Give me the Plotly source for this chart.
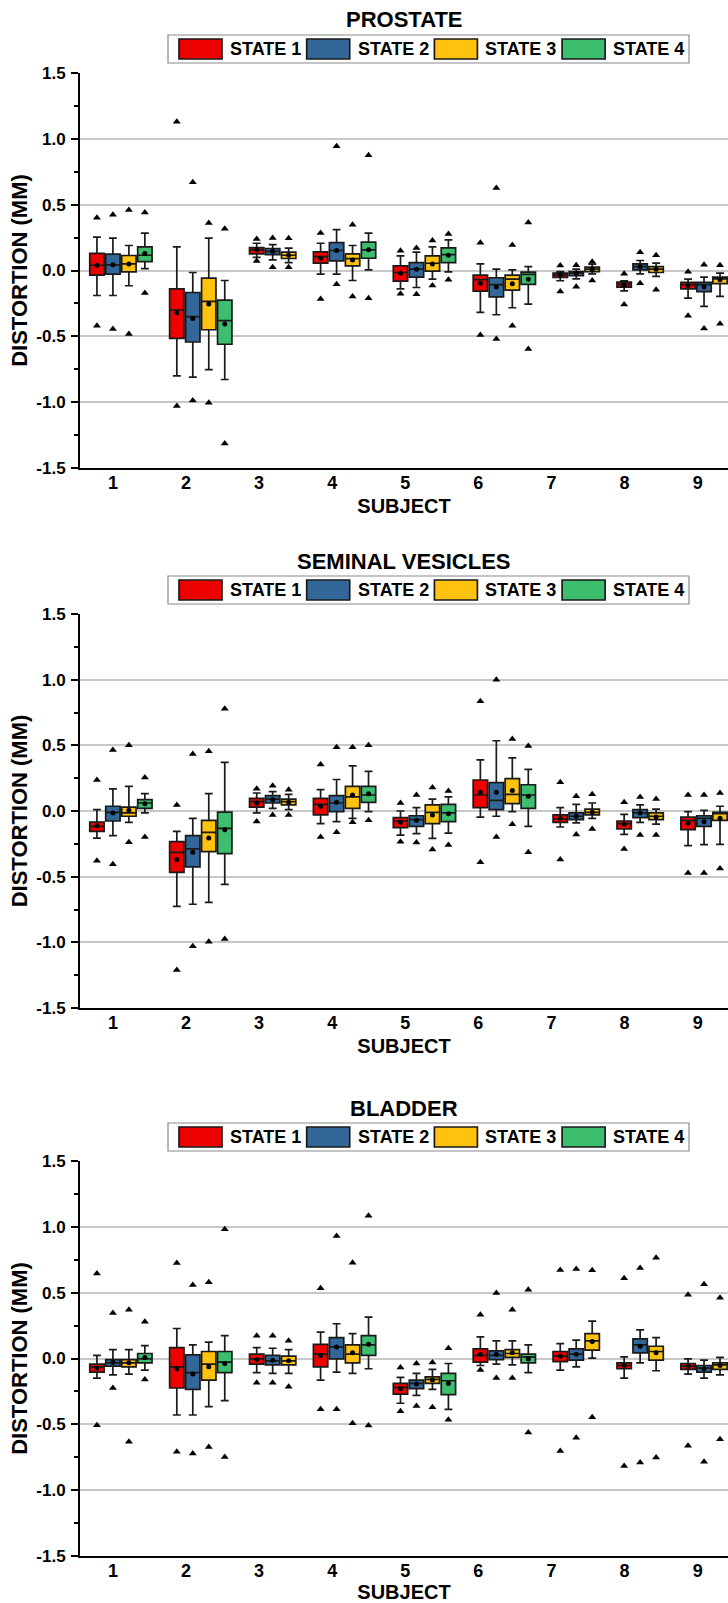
import numpy as np
import plotly.graph_objects as go

FONT = "Liberation Sans, Arial, sans-serif"
SUBJECTS = ["1", "2", "3", "4", "5", "6", "7", "8", "9"]
STATES = ["STATE 1", "STATE 2", "STATE 3", "STATE 4"]
COLORS = ["#EE0000", "#336699", "#FFC20E", "#3CBE6E"]
ORGANS = ["PROSTATE", "SEMINAL VESICLES", "BLADDER"]
Y_TICKS = [-1.5, -1.0, -0.5, 0.0, 0.5, 1.0, 1.5]
Y_TICK_TEXT = ["-1.5", "-1.0", "-0.5", "0.0", "0.5", "1.0", "1.5"]
Y_MINOR = [-1.25, -0.75, -0.25, 0.25, 0.75, 1.25]
N = None

# ---------------- PROSTATE (lists per state 1..4, values per subject 1..9)
PROSTATE_Q3 = [
    [0.13, -0.139, 0.174, 0.141, 0.035, -0.035, -0.02, -0.088, -0.09],
    [0.124, -0.167, 0.167, 0.212, 0.06, -0.055, -0.008, 0.05, -0.09],
    [0.114, -0.058, 0.139, 0.126, 0.111, -0.035, 0.025, 0.03, -0.05],
    [0.18, -0.225, N, 0.215, 0.172, -0.013, N, N, N]]
PROSTATE_Q1 = [
    [-0.035, -0.515, 0.126, 0.056, -0.08, -0.157, -0.053, -0.126, -0.139],
    [-0.028, -0.543, 0.121, 0.073, -0.05, -0.2, -0.04, 0.005, -0.16],
    [-0.01, -0.45, 0.091, 0.035, -0.005, -0.149, -0.008, -0.015, -0.1],
    [0.068, -0.56, N, 0.093, 0.06, -0.106, N, N, N]]
PROSTATE_MED = [
    [0.04, -0.30, 0.157, 0.106, -0.015, -0.07, -0.035, -0.106, -0.108],
    [0.043, -0.35, 0.146, 0.152, 0.01, -0.108, -0.02, 0.03, -0.108],
    [0.05, -0.235, 0.116, 0.09, 0.055, -0.066, 0.01, 0.01, -0.063],
    [0.116, -0.38, N, 0.157, 0.121, -0.03, N, N, N]]
PROSTATE_MEAN = [
    [0.04, -0.32, 0.157, 0.093, -0.02, -0.096, -0.035, -0.111, -0.114],
    [0.043, -0.364, 0.146, 0.152, 0.01, -0.126, -0.02, 0.03, -0.126],
    [0.05, -0.255, 0.116, 0.08, 0.05, -0.10, 0.01, 0.01, -0.07],
    [0.13, -0.407, N, 0.157, 0.116, -0.066, N, N, N]]
PROSTATE_WHI = [
    [0.254, 0.18, 0.207, 0.207, 0.111, 0.05, -0.008, -0.078, -0.066],
    [0.246, -0.015, 0.197, 0.31, 0.139, 0.01, 0.01, 0.076, -0.05],
    [0.19, 0.246, 0.17, 0.19, 0.18, 0.005, 0.048, 0.056, -0.02],
    [0.284, -0.076, N, 0.284, 0.233, 0.03, N, N, N]]
PROSTATE_WLO = [
    [-0.19, -0.80, 0.10, -0.028, -0.139, -0.318, -0.078, -0.154, -0.21],
    [-0.19, -0.81, 0.08, -0.028, -0.129, -0.336, -0.063, -0.025, -0.273],
    [-0.116, -0.753, 0.06, -0.076, -0.066, -0.283, -0.025, -0.045, -0.197],
    [0.015, -0.828, N, 0.005, -0.01, -0.255, N, N, N]]
PROSTATE_MAX = [
    [0.40, 1.13, 0.24, 0.284, 0.15, 0.21, 0.038, -0.025, -0.01],
    [0.424, 0.67, 0.246, 0.944, 0.17, 0.627, 0.04, 0.139, 0.043],
    [0.46, 0.36, 0.244, 0.348, 0.228, 0.194, 0.066, 0.116, 0.04],
    [0.44, 0.317, N, 0.876, 0.277, 0.365, N, N, N]]
PROSTATE_MIN = [
    [-0.42, -1.03, 0.073, -0.217, -0.177, -0.49, -0.16, -0.258, -0.343],
    [-0.444, -0.987, 0.025, -0.104, -0.18, -0.52, -0.124, -0.096, -0.44],
    [-0.482, -1.005, 0.025, -0.197, -0.114, -0.42, -0.076, -0.146, -0.404],
    [-0.17, -1.313, N, -0.21, -0.07, -0.596, N, N, N]]

# ---------------- SEMINAL VESICLES
SEMINAL_Q3 = [
    [-0.084, -0.233, 0.096, 0.096, -0.051, 0.236, -0.03, -0.076, -0.046],
    [0.036, -0.188, 0.117, 0.117, -0.036, 0.216, -0.015, 0.01, -0.036],
    [0.03, -0.071, 0.091, 0.188, 0.046, 0.246, 0.015, -0.015, -0.01],
    [0.086, -0.008, N, 0.188, 0.051, 0.2, N, N, N]]
SEMINAL_Q1 = [
    [-0.155, -0.467, 0.03, -0.03, -0.127, 0.025, -0.086, -0.137, -0.142],
    [-0.076, -0.426, 0.061, -0.005, -0.117, 0.01, -0.066, -0.051, -0.117],
    [-0.04, -0.31, 0.046, 0.02, -0.096, 0.056, -0.03, -0.066, -0.071],
    [0.02, -0.325, N, 0.066, -0.081, 0.02, N, N, N]]
SEMINAL_MED = [
    [-0.117, -0.315, 0.071, 0.05, -0.076, 0.122, -0.061, -0.096, -0.071],
    [-0.01, -0.289, 0.091, 0.061, -0.066, 0.081, -0.04, -0.015, -0.056],
    [-0.015, -0.162, 0.071, 0.107, -0.01, 0.127, -0.01, -0.04, -0.02],
    [0.061, -0.132, N, 0.122, -0.015, 0.122, N, N, N]]
SEMINAL_MEAN = [
    [-0.112, -0.37, 0.061, 0.036, -0.086, 0.142, -0.056, -0.1, -0.091],
    [-0.015, -0.315, 0.086, 0.066, -0.071, 0.142, -0.04, -0.015, -0.081],
    [0.005, -0.206, 0.066, 0.122, -0.03, 0.157, -0.01, -0.046, -0.056],
    [0.056, -0.142, N, 0.132, -0.02, 0.112, N, N, N]]
SEMINAL_WHI = [
    [0.01, -0.155, 0.137, 0.162, 0.0, 0.39, 0.025, -0.025, -0.005],
    [0.168, -0.056, 0.147, 0.24, 0.025, 0.535, 0.05, 0.046, 0.005],
    [0.188, 0.132, 0.127, 0.343, 0.091, 0.404, 0.061, 0.015, 0.036],
    [0.132, 0.37, N, 0.302, 0.107, 0.317, N, N, N]]
SEMINAL_WLO = [
    [-0.206, -0.726, -0.015, -0.096, -0.183, -0.046, -0.122, -0.178, -0.264],
    [-0.188, -0.71, 0.02, -0.081, -0.173, -0.04, -0.091, -0.086, -0.256],
    [-0.086, -0.695, 0.01, -0.056, -0.208, -0.005, -0.056, -0.1, -0.254],
    [-0.015, -0.558, N, -0.005, -0.168, -0.117, N, N, N]]
SEMINAL_MAX = [
    [0.236, 0.046, 0.17, 0.355, 0.061, 0.835, 0.218, 0.066, 0.122],
    [0.464, 0.434, 0.193, 0.485, 0.122, 1.0, 0.112, 0.107, 0.122],
    [0.5, 0.454, 0.162, 0.485, 0.178, 0.548, 0.127, 0.091, 0.137],
    [0.256, 0.779, N, 0.5, 0.152, 0.495, N, N, N]]
SEMINAL_MIN = [
    [-0.378, -1.21, -0.079, -0.198, -0.234, -0.39, -0.37, -0.289, -0.472],
    [-0.406, -1.03, -0.03, -0.162, -0.24, -0.198, -0.178, -0.183, -0.472],
    [-0.238, -0.995, -0.03, -0.086, -0.294, -0.1, -0.137, -0.183, -0.437],
    [-0.198, -0.975, N, -0.071, -0.259, -0.315, N, N, N]]

# ---------------- BLADDER
BLADDER_Q3 = [
    [-0.043, 0.083, 0.033, 0.108, -0.189, 0.073, 0.053, -0.033, -0.038],
    [-0.008, 0.028, 0.023, 0.159, -0.164, 0.058, 0.073, 0.149, -0.053],
    [-0.008, 0.053, 0.018, 0.103, -0.139, 0.068, 0.189, 0.093, -0.033],
    [0.038, 0.053, N, 0.174, -0.113, 0.033, N, N, N]]
BLADDER_Q1 = [
    [-0.103, -0.224, -0.043, -0.063, -0.27, -0.028, -0.023, -0.078, -0.083],
    [-0.058, -0.234, -0.048, -0.003, -0.229, -0.008, -0.013, 0.043, -0.103],
    [-0.063, -0.164, -0.048, -0.033, -0.189, 0.008, 0.063, -0.013, -0.083],
    [-0.033, -0.108, N, 0.023, -0.275, -0.033, N, N, N]]
BLADDER_MED = [
    [-0.063, -0.063, -0.003, 0.033, -0.219, 0.023, 0.018, -0.053, -0.058],
    [-0.033, -0.108, -0.018, 0.088, -0.189, 0.023, 0.033, 0.103, -0.073],
    [-0.033, -0.043, -0.018, 0.033, -0.159, 0.038, 0.134, 0.053, -0.048],
    [-0.003, -0.028, N, 0.103, -0.169, 0.013, N, N, N]]
BLADDER_MEAN = [
    [-0.073, -0.078, -0.008, 0.023, -0.229, 0.033, 0.018, -0.053, -0.058],
    [-0.028, -0.118, -0.013, 0.088, -0.194, 0.033, 0.033, 0.093, -0.078],
    [-0.033, -0.063, -0.018, 0.043, -0.164, 0.043, 0.129, 0.043, -0.053],
    [0.008, -0.038, N, 0.108, -0.189, -0.003, N, N, N]]
BLADDER_WHI = [
    [0.023, 0.228, 0.083, 0.2, -0.144, 0.164, 0.113, 0.013, -0.003],
    [0.068, 0.103, 0.078, 0.264, -0.113, 0.134, 0.139, 0.218, -0.013],
    [0.068, 0.124, 0.068, 0.189, -0.083, 0.134, 0.284, 0.159, 0.008],
    [0.098, 0.173, N, 0.315, -0.038, 0.103, N, N, N]]
BLADDER_WLO = [
    [-0.149, -0.429, -0.108, -0.164, -0.34, -0.053, -0.088, -0.149, -0.118],
    [-0.124, -0.429, -0.113, -0.103, -0.28, -0.043, -0.063, -0.033, -0.149],
    [-0.118, -0.366, -0.113, -0.113, -0.234, -0.048, 0.003, -0.093, -0.124],
    [-0.088, -0.32, N, -0.078, -0.386, -0.108, N, N, N]]
BLADDER_MAX = [
    [0.645, 0.726, 0.173, 0.533, -0.068, 0.332, 0.673, 0.609, 0.485],
    [0.345, 0.558, 0.173, 0.931, -0.038, 0.497, 0.68, 0.688, 0.563],
    [0.37, 0.579, 0.134, 0.728, -0.03, 0.37, 0.67, 0.766, 0.462],
    [0.279, 0.982, N, 1.084, 0.078, 0.523, N, N, N]]
BLADDER_MIN = [
    [-0.507, -0.708, -0.184, -0.386, -0.401, -0.088, -0.703, -0.817, -0.663],
    [-0.224, -0.721, -0.184, -0.386, -0.36, -0.149, -0.602, -0.789, -0.784],
    [-0.633, -0.673, -0.214, -0.492, -0.371, -0.149, -0.446, -0.751, -0.613],
    [-0.159, -0.749, N, -0.509, -0.466, -0.562, N, N, N]]

PANELS = [
    (PROSTATE_Q1, PROSTATE_MED, PROSTATE_Q3, PROSTATE_WLO, PROSTATE_WHI, PROSTATE_MEAN, PROSTATE_MAX, PROSTATE_MIN),
    (SEMINAL_Q1, SEMINAL_MED, SEMINAL_Q3, SEMINAL_WLO, SEMINAL_WHI, SEMINAL_MEAN, SEMINAL_MAX, SEMINAL_MIN),
    (BLADDER_Q1, BLADDER_MED, BLADDER_Q3, BLADDER_WLO, BLADDER_WHI, BLADDER_MEAN, BLADDER_MAX, BLADDER_MIN),
]

# ---------------- layout geometry (page pixels; body margin is removed below)
W, H = 728, 1603
ML = 80                              # x of the y axis line
PLOT_TOP = [73, 614, 1161]           # y of 1.5
PLOT_BOT = [468, 1008, 1556]         # y of -1.5


def paper_x(px):
    return (px - ML) / (W - ML)


def paper_y(py):
    return 1 - py / H


def slot_positions(q1):
    """Sequential box slots, one empty slot between subjects."""
    pos = {}
    slot = 0
    for j in range(len(SUBJECTS)):
        for k in range(len(STATES)):
            if q1[k][j] is not None:
                pos[(k, j)] = slot
                slot += 1
        slot += 1
    return pos


fig = go.Figure()
layout = dict(
    width=W, height=H, showlegend=False,
    margin=dict(l=ML, r=0, t=0, b=0),
    paper_bgcolor="white", plot_bgcolor="white",
    font=dict(family=FONT, color="black"),
    annotations=[], shapes=[],
)

tick_pos = list(np.linspace(1.0, 37.6, len(SUBJECTS)))

for i, (q1, med, q3, wlo, whi, mean, vmax, vmin) in enumerate(PANELS):
    suf = "" if i == 0 else str(i + 1)
    xa, ya = "x" + suf, "y" + suf
    pos = slot_positions(q1)
    for k in range(len(STATES)):
        idx = [j for j in range(len(SUBJECTS)) if q1[k][j] is not None]
        xs = [pos[(k, j)] for j in idx]
        pick = lambda arr: [arr[k][j] for j in idx]
        fig.add_trace(go.Box(
            x=xs, q1=pick(q1), median=pick(med), q3=pick(q3),
            lowerfence=pick(wlo), upperfence=pick(whi),
            name=STATES[k], legendgroup=STATES[k], showlegend=False,
            fillcolor=COLORS[k], line=dict(color="#1a1a1a", width=1.7),
            width=0.9, whiskerwidth=0.55, boxpoints=False,
            xaxis=xa, yaxis=ya))
        fig.add_trace(go.Scatter(
            x=xs, y=pick(mean), mode="markers", showlegend=False,
            name=STATES[k] + " mean",
            marker=dict(color="black", size=5, symbol="circle"),
            xaxis=xa, yaxis=ya))
        fig.add_trace(go.Scatter(
            x=xs + xs, y=pick(vmax) + pick(vmin), mode="markers", showlegend=False,
            name=STATES[k] + " max/min",
            marker=dict(color="black", size=7, symbol="triangle-up"),
            xaxis=xa, yaxis=ya))

    top, bot = PLOT_TOP[i], PLOT_BOT[i]
    layout["xaxis" + suf] = dict(
        domain=[0, 1], anchor=ya, range=[-1.06, 39.5],
        tickmode="array", tickvals=tick_pos, ticktext=SUBJECTS,
        showline=True, linecolor="black", linewidth=2, ticks="",
        showgrid=False, zeroline=False, automargin=False,
        ticklabelstandoff=-3,
        tickfont=dict(family=FONT, size=18, color="black", weight="bold"),
        title=dict(text="SUBJECT", standoff=7,
                   font=dict(family=FONT, size=20, color="black", weight="bold")))
    layout["yaxis" + suf] = dict(
        domain=[paper_y(bot), paper_y(top)], anchor=xa, range=[-1.5, 1.5],
        tickmode="array", tickvals=Y_TICKS, ticktext=Y_TICK_TEXT,
        showgrid=True, gridcolor="#c8c8c8", gridwidth=1.5, zeroline=False,
        showline=True, linecolor="black", linewidth=2,
        ticks="outside", ticklen=7, tickwidth=2, tickcolor="black",
        ticklabelstandoff=2, automargin=False,
        minor=dict(tickmode="array", tickvals=Y_MINOR, ticks="outside",
                   ticklen=4, tickwidth=1.5, tickcolor="black", showgrid=False),
        tickfont=dict(family=FONT, size=17, color="black", weight="bold"),
        title=dict(text="DISTORTION (MM)", standoff=3,
                   font=dict(family=FONT, size=22, color="black", weight="bold")))

    # panel title
    layout["annotations"].append(dict(
        text="<b>%s</b>" % ORGANS[i], xref="paper", yref="paper",
        x=0.5, y=paper_y(top - 53), xanchor="center", yanchor="middle",
        showarrow=False, font=dict(family=FONT, size=22, color="black")))

    # legend (drawn per panel)
    lg_top, lg_bot = top - 38, top - 10
    layout["shapes"].append(dict(
        type="rect", xref="paper", yref="paper",
        x0=paper_x(168), x1=paper_x(689), y0=paper_y(lg_bot), y1=paper_y(lg_top),
        line=dict(color="#8a8a8a", width=1.2), fillcolor="white", layer="above"))
    for k in range(len(STATES)):
        sx = 179 + 127.7 * k
        layout["shapes"].append(dict(
            type="rect", xref="paper", yref="paper",
            x0=paper_x(sx), x1=paper_x(sx + 43),
            y0=paper_y(lg_bot - 4), y1=paper_y(lg_top + 4),
            line=dict(color="#1a1a1a", width=1.7), fillcolor=COLORS[k], layer="above"))
        layout["annotations"].append(dict(
            text="<b>%s</b>" % STATES[k], xref="paper", yref="paper",
            x=paper_x(sx + 49), y=paper_y((lg_top + lg_bot) / 2),
            xanchor="left", yanchor="middle", showarrow=False,
            font=dict(family=FONT, size=18, color="black")))

fig.update_layout(**layout)
fig.write_html("out.html",
               config={"displayModeBar": False},
               post_script="document.body.style.margin='0';"
                           "document.body.style.overflow='hidden';")
